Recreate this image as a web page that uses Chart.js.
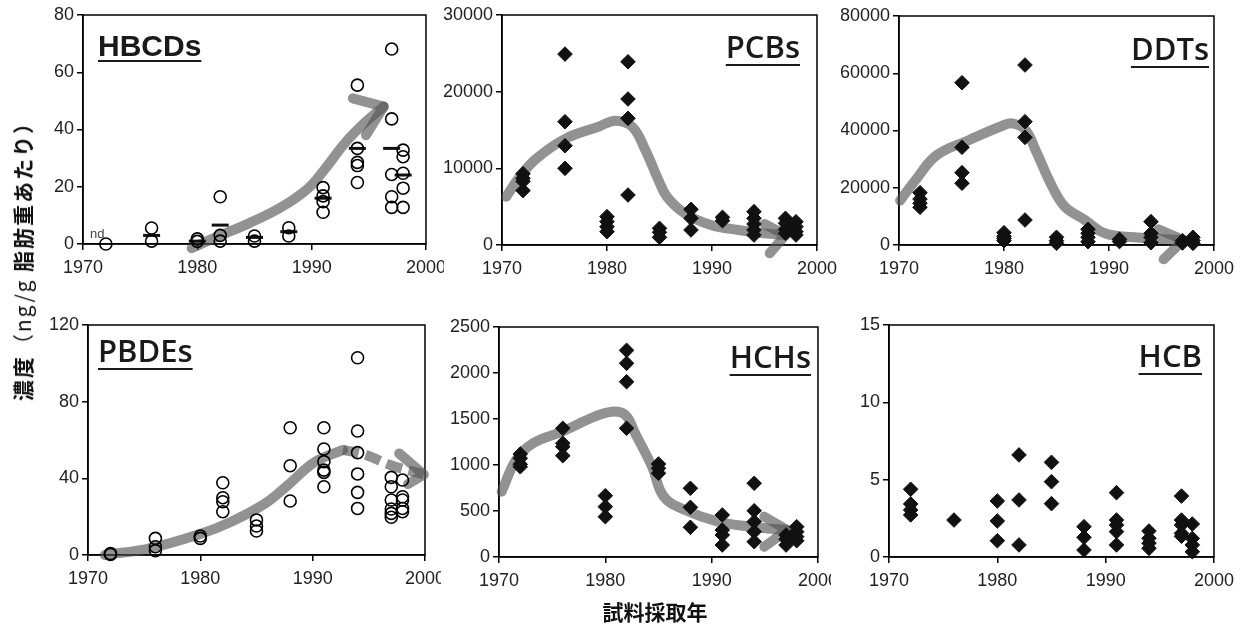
<!DOCTYPE html>
<html>
<head>
<meta charset="utf-8">
<title>concentration trends</title>
<script src="https://cdn.jsdelivr.net/npm/chart.js@4.4.1/dist/chart.umd.min.js"></script>
<style>
body { margin:0; background:#fff; width:1247px; height:626px; position:relative; overflow:hidden; }
canvas { position:absolute; background:#fff; }
.ttl { position:absolute; font-family:"Open Sans", sans-serif; font-weight:600; font-size:31px; line-height:31px;
       color:#1a1a1a; text-decoration:underline; text-decoration-thickness:2px; text-underline-offset:6px;
       white-space:nowrap; z-index:5; }
#ylab { position:absolute; left:22px; top:256px; transform:translate(-50%,-50%) rotate(-90deg);
        font-family:"Noto Sans CJK JP", sans-serif; font-size:21px; letter-spacing:2px; color:#111;
        white-space:nowrap; z-index:5; }
#xlab { position:absolute; left:655px; top:596px; transform:translateX(-50%);
        font-family:"Noto Sans CJK JP", sans-serif; font-weight:700; font-size:21px; color:#111;
        white-space:nowrap; z-index:5; }
#nd { position:absolute; left:90px; top:226px; font-family:"Liberation Sans", Arial, sans-serif;
      font-size:13px; color:#444; z-index:5; }
</style>
</head>
<body>

<canvas id="c1"></canvas>
<canvas id="c2"></canvas>
<canvas id="c3"></canvas>
<canvas id="c4"></canvas>
<canvas id="c5"></canvas>
<canvas id="c6"></canvas>

<div class="ttl" style="left:98px; top:31px; font-family:'Liberation Sans',Arial,sans-serif; font-weight:700; font-size:30px; line-height:30px; text-underline-offset:4px;">HBCDs</div>
<div class="ttl" style="right:447px; top:31px;">PCBs</div>
<div class="ttl" style="right:38px; top:33px;">DDTs</div>
<div class="ttl" style="left:98px; top:335px;">PBDEs</div>
<div class="ttl" style="right:436px; top:341px;">HCHs</div>
<div class="ttl" style="right:45px; top:340px;">HCB</div>
<div id="nd">nd</div>
<div id="ylab"><b>濃度</b>（ng/g <b>脂肪重あたり）</b></div>
<div id="xlab">試料採取年</div>

<script>
// sampling years (same for every panel)
var years = [1972, 1976, 1980, 1982, 1985, 1988, 1991, 1994, 1997, 1998];

// values per year
var hbcds = [[0], [5.6, 1.0], [1.8, 0.9], [16.5, 3.0, 1.0], [2.8, 1.0], [5.7, 2.8],
             [19.7, 16.8, 14.8, 11.1], [55.5, 33.4, 28.5, 27.4, 21.5],
             [68.1, 43.7, 24.3, 16.5, 12.8], [32.8, 30.5, 24.7, 19.5, 12.8]];
var hbcdsMean = [null, 3.0, 1.0, 6.6, 2.3, 4.3, 16.0, 33.4, 33.4, 24.1];

var pcbs = [[9300, 8700, 8300, 7100], [24900, 16080, 12950, 10000], [3700, 3040, 2390, 1740],
            [23900, 19040, 16520, 6520], [2170, 1650, 1000], [4650, 3480, 1960], [3610, 3170],
            [4350, 3480, 2740, 1960, 1300], [3480, 2830, 2040, 1520], [3040, 2390, 1740, 1300]];

var ddts = [[18270, 16070, 14570, 13170], [56700, 34130, 25270, 21570], [4300, 3100, 2300, 1500],
            [62880, 43080, 37600, 8730], [2700, 1500, 600], [5480, 4080, 2700, 1160], [2000, 1200],
            [8150, 4080, 2700, 800], [1500, 700], [2700, 1560, 580]];

var pbdes = [[0.3, 0.8], [8.7, 4.3, 2.3], [9.9, 8.7], [37.7, 29.9, 27.8, 22.6], [18.3, 15.1, 12.5],
             [66.4, 46.6, 28.2], [66.4, 55.3, 48.7, 44.3, 43.1, 35.6],
             [102.9, 64.7, 53.4, 42.3, 32.7, 24.3], [40.5, 35.6, 28.7, 24.0, 21.7, 19.7],
             [39.1, 30.4, 28.7, 24.3, 22.6]];

var hchs = [[1120, 1073, 1008, 981], [1399, 1236, 1199, 1101], [666, 547, 438],
            [2246, 2105, 1905, 1399], [1011, 964, 910], [747, 540, 323], [457, 293, 239, 130],
            [801, 503, 384, 275, 166], [239, 192, 130], [329, 275, 221, 177]];

var hcb = [[4.38, 3.43, 3.04, 2.72], [2.39], [3.62, 2.33, 1.05], [6.6, 3.69, 0.78], [6.12, 4.87, 3.45],
           [1.96, 1.27, 0.45], [4.16, 2.39, 2.07, 1.64, 0.78], [1.68, 1.21, 0.89, 0.56],
           [3.94, 2.39, 2.07, 1.53, 1.34], [2.13, 1.2, 0.78, 0.34]];

// hand drawn trend arrows (year, value)
var hbcdsTrend = [[1979.5, -1.5], [1981.6, 2.3], [1984.5, 7.2], [1987.4, 13], [1989.7, 19.5],
                  [1991.1, 25.9], [1992.9, 35.2], [1994.6, 42.2], [1996.3, 48]];
var hbcdsHead = [[1993.6, 50.9], [1996.3, 48], [1994.75, 38]];

var pcbsTrend = [[1970.4, 6300], [1971.7, 8910], [1973.3, 11300], [1976.1, 13910], [1979.2, 15430],
                 [1980.8, 16220], [1982.4, 15430], [1983.65, 12390], [1984.9, 8480], [1985.7, 6300],
                 [1987.4, 4130], [1989.9, 2610], [1992.5, 1960], [1995, 1520], [1997.0, 1300]];
var pcbsHead = [[1995, 2740], [1997.0, 1300], [1995.5, -1080]];

var ddtsTrend = [[1970.1, 15500], [1971.7, 23300], [1973.6, 31400], [1976.7, 36700], [1979.8, 41570],
                 [1980.8, 42500], [1982.05, 40170], [1983, 33190], [1984.6, 20370], [1985.8, 13370],
                 [1987.7, 8730], [1989.6, 4100], [1992.4, 2700], [1997.1, 1750]];
var ddtsHead = [[1994.7, 5480], [1997.1, 1750], [1995.2, -5000]];

var pbdesTrend = [[1971.5, 0], [1975.5, 3.5], [1980, 11], [1982.8, 17.5], [1985.8, 27],
                  [1987.8, 36.5], [1990.2, 48.5], [1992.7, 54.8]];
var pbdesDash = [[1992.7, 54.8], [1994.6, 52.5], [1996.9, 47], [1999.9, 42]];
var pbdesHead = [[1997.7, 53], [1999.9, 42], [1998.5, 37]];

var hchsTrend = [[1970.25, 710], [1971.6, 1054], [1973.2, 1236], [1975.9, 1362], [1979, 1525],
                 [1980.65, 1580], [1981.9, 1543], [1982.8, 1345], [1984.4, 981], [1985.5, 656],
                 [1987.5, 511], [1990.6, 384], [1993.7, 329], [1997.1, 293]];
var hchsHead = [[1994.95, 438], [1997.1, 293], [1994.95, 112]];

var trendColor = 'rgba(85,85,85,0.64)';

function pts(vals) {
  var out = [];
  for (var i = 0; i < years.length; i++)
    for (var j = 0; j < vals[i].length; j++)
      out.push({x: years[i], y: vals[i][j]});
  return out;
}
function xy(arr) {
  return arr.map(function (p) { return {x: p[0], y: p[1]}; });
}

function circles(vals) {
  return {data: pts(vals), pointStyle: 'circle', pointRadius: 6, borderWidth: 1.6,
          borderColor: '#000', backgroundColor: 'rgba(0,0,0,0)', clip: false, order: 0};
}
function diamonds(vals) {
  return {data: pts(vals), pointStyle: 'rectRot', pointRadius: 7.3, borderWidth: 1,
          borderColor: '#111', backgroundColor: '#111', clip: false, order: 0};
}
function trend(arr, tension, dash) {
  return {data: xy(arr), showLine: true, pointRadius: 0, borderColor: trendColor, borderWidth: 10,
          tension: tension, borderCapStyle: dash ? 'butt' : 'round', borderJoinStyle: 'round',
          borderDash: dash || [], clip: false, order: 5};
}

// draws the top and right sides of the frame
var framePlugin = {
  id: 'frame',
  beforeDatasetsDraw: function (chart) {
    var a = chart.chartArea, ctx = chart.ctx;
    ctx.save();
    ctx.strokeStyle = '#000';
    ctx.lineWidth = 1.5;
    ctx.strokeRect(a.left, a.top, a.right - a.left, a.bottom - a.top);
    ctx.restore();
  }
};

var YW = 58, PT = 14, PR = 24, XH = 45;

function panel(id, box, yMax, yStep, datasets) {
  var cv = document.getElementById(id);
  cv.width = box.r - box.l + YW + PR;
  cv.height = box.b - box.t + PT + XH;
  cv.style.left = (box.l - YW) + 'px';
  cv.style.top = (box.t - PT) + 'px';
  var tickFont = {family: '"Liberation Sans", Arial, sans-serif', size: 18};
  return new Chart(cv.getContext('2d'), {
    type: 'scatter',
    data: {datasets: datasets},
    plugins: [framePlugin],
    options: {
      responsive: false,
      animation: false,
      layout: {padding: {top: PT, right: PR, left: 0, bottom: 0}},
      plugins: {legend: {display: false}, tooltip: {enabled: false}},
      scales: {
        x: {
          type: 'linear', min: 1970, max: 2000,
          afterFit: function (s) { s.height = XH; },
          ticks: {stepSize: 10, padding: 7, color: '#222', font: tickFont, maxRotation: 0,
                  callback: function (v) { return String(v); }},
          grid: {drawOnChartArea: false, tickLength: 6, color: '#000', lineWidth: 1.5},
          border: {color: '#000', width: 1.5}
        },
        y: {
          min: 0, max: yMax,
          afterFit: function (s) { s.width = YW; },
          ticks: {stepSize: yStep, padding: 3, color: '#222', font: tickFont,
                  callback: function (v) { return String(v); }},
          grid: {drawOnChartArea: false, tickLength: 6, color: '#000', lineWidth: 1.5},
          border: {color: '#000', width: 1.5}
        }
      }
    }
  });
}

var meanPts = [];
for (var i = 0; i < years.length; i++)
  if (hbcdsMean[i] !== null) meanPts.push({x: years[i], y: hbcdsMean[i]});

panel('c1', {l: 83, t: 15, r: 429, b: 244}, 80, 20, [
  circles(hbcds),
  {data: meanPts, pointStyle: 'line', pointRadius: 8.5, borderWidth: 3, borderColor: '#111', clip: false, order: 0},
  trend(hbcdsTrend, 0.4),
  trend(hbcdsHead, 0)
]);
panel('c2', {l: 502, t: 15, r: 820, b: 245}, 30000, 10000, [
  diamonds(pcbs), trend(pcbsTrend, 0.4), trend(pcbsHead, 0)
]);
panel('c3', {l: 899, t: 16, r: 1217, b: 245}, 80000, 20000, [
  diamonds(ddts), trend(ddtsTrend, 0.4), trend(ddtsHead, 0)
]);
panel('c4', {l: 88, t: 325, r: 428, b: 555}, 120, 40, [
  circles(pbdes), trend(pbdesTrend, 0.4), trend(pbdesDash, 0.4, [16, 7]), trend(pbdesHead, 0)
]);
panel('c5', {l: 499, t: 327, r: 821, b: 557}, 2500, 500, [
  diamonds(hchs), trend(hchsTrend, 0.4), trend(hchsHead, 0)
]);
panel('c6', {l: 889, t: 325, r: 1217, b: 557}, 15, 5, [
  diamonds(hcb)
]);
</script>
</body>
</html>
